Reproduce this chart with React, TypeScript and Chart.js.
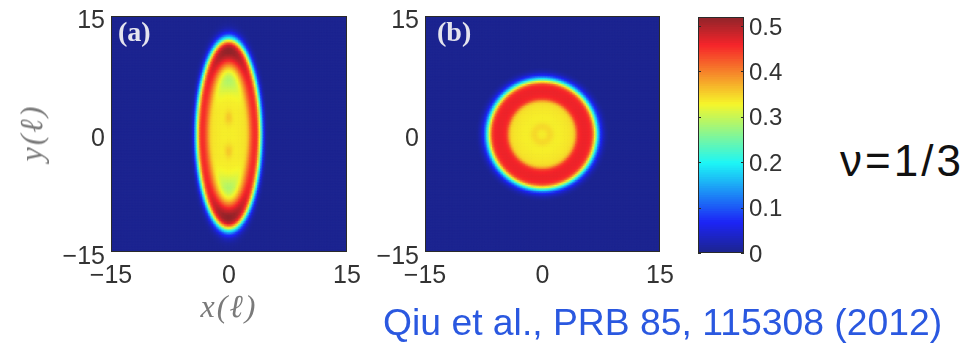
import React, { useEffect, useRef } from "react";
import { Chart, registerables } from "chart.js";

Chart.register(...registerables);

// ---------- data ----------
const AXIS_TICKS = [-15, 0, 15];
const AXIS_MIN = -15;
const AXIS_MAX = 15;
const COLORBAR_TICKS = [0, 0.1, 0.2, 0.3, 0.4, 0.5];
const COLOR_MIN = 0;
const COLOR_MAX = 0.52;

// Panel (a): elliptical droplet. Density read along the major (y) and minor (x)
// axes, sampled against normalised elliptical radius rho (step 0.04).
const A_SEMI_X = 4.2;
const A_SEMI_Y = 12.3;
const A_RHO_STEP = 0.04;
const A_MAJOR_PROFILE = [
  0.330, 0.332, 0.335, 0.343, 0.354, 0.352, 0.340, 0.333, 0.330, 0.328,
  0.322, 0.312, 0.300, 0.288, 0.284, 0.293, 0.315, 0.350, 0.400, 0.450,
  0.490, 0.515, 0.515, 0.480, 0.360, 0.190, 0.080, 0.028, 0.008, 0.002,
  0.000,
];
const A_MINOR_PROFILE = [
  0.330, 0.330, 0.330, 0.330, 0.330, 0.331, 0.331, 0.332, 0.332, 0.333,
  0.334, 0.335, 0.337, 0.342, 0.352, 0.372, 0.396, 0.418, 0.436, 0.447,
  0.450, 0.442, 0.412, 0.350, 0.270, 0.180, 0.100, 0.045, 0.015, 0.004,
  0.000,
];

// Panel (b): circular droplet, radial density (radius step 0.25 ℓ)
const B_R_STEP = 0.25;
const B_RADIAL_PROFILE = [
  0.330, 0.331, 0.335, 0.341, 0.343, 0.340, 0.334, 0.331, 0.330, 0.330,
  0.331, 0.332, 0.333, 0.334, 0.336, 0.339, 0.347, 0.380, 0.432, 0.452,
  0.457, 0.460, 0.460, 0.459, 0.455, 0.445, 0.400, 0.315, 0.215, 0.130,
  0.070, 0.035, 0.015, 0.005, 0.000,
];

const GRID_STEP = 0.2;
const COLORBAR_BINS = 104;

// ---------- helpers ----------
const clamp = (v: number, a: number, b: number) => Math.max(a, Math.min(b, v));

function lookup(profile: number[], step: number, pos: number) {
  const f = pos / step;
  const i = Math.floor(f);
  if (i >= profile.length - 1) return profile[profile.length - 1];
  const fr = f - i;
  return profile[i] * (1 - fr) + profile[i + 1] * fr;
}

function jetColor(value: number) {
  const t = clamp((value - COLOR_MIN) / (COLOR_MAX - COLOR_MIN), 0, 1);
  const r = clamp(Math.min(4 * t - 1.5, -4 * t + 4.5), 0, 1);
  const g = clamp(Math.min(4 * t - 0.5, -4 * t + 3.5), 0, 1);
  const b = clamp(Math.min(4 * t + 0.5, -4 * t + 2.5), 0, 1);
  const wash = (c: number, base: number) => Math.round(base + c * (255 - base) * 0.96);
  return `rgb(${wash(r, 28)},${wash(g, 36)},${wash(b, 42)})`;
}

function densityA(x: number, y: number) {
  const u = x / A_SEMI_X;
  const v = y / A_SEMI_Y;
  const rho = Math.hypot(u, v);
  const c2 = rho > 0 ? (v * v) / (rho * rho) : 1;
  const w = c2 * c2;
  return (1 - w) * lookup(A_MINOR_PROFILE, A_RHO_STEP, rho) + w * lookup(A_MAJOR_PROFILE, A_RHO_STEP, rho);
}

function densityB(x: number, y: number) {
  return lookup(B_RADIAL_PROFILE, B_R_STEP, Math.hypot(x, y));
}

function buildCells(fn: (x: number, y: number) => number) {
  const pts: { x: number; y: number }[] = [];
  const colors: string[] = [];
  const n = Math.round((AXIS_MAX - AXIS_MIN) / GRID_STEP);
  for (let j = 0; j < n; j++) {
    const y = AXIS_MIN + (j + 0.5) * GRID_STEP;
    for (let i = 0; i < n; i++) {
      const x = AXIS_MIN + (i + 0.5) * GRID_STEP;
      pts.push({ x, y });
      colors.push(jetColor(fn(x, y)));
    }
  }
  return { pts, colors };
}

const TICK_FONT = { family: "'Liberation Sans', Arial, Helvetica, sans-serif", size: 25 };
const TICK_COLOR = "#333333";
const fmtAxis = (v: number) => (v < 0 ? "\u2212" + Math.abs(v) : String(v));

const boxPlugin = {
  id: "box",
  afterDatasetsDraw(chart: any) {
    const a = chart.chartArea;
    const ctx = chart.ctx;
    ctx.save();
    ctx.strokeStyle = "#2a2a2a";
    ctx.lineWidth = 1;
    ctx.strokeRect(Math.round(a.left) + 0.5, Math.round(a.top) + 0.5, Math.round(a.right - a.left) - 1, Math.round(a.bottom - a.top) - 1);
    ctx.restore();
  },
};

// fill the plot area with the zero-density colour so cell seams never show white
const floorPlugin = {
  id: "floor",
  beforeDatasetsDraw(chart: any) {
    const a = chart.chartArea;
    const ctx = chart.ctx;
    ctx.save();
    ctx.fillStyle = jetColor(COLOR_MIN);
    ctx.fillRect(a.left, a.top, a.right - a.left, a.bottom - a.top);
    ctx.restore();
  },
};

function makePanel(canvas: HTMLCanvasElement, fn: (x: number, y: number) => number, yAxisWidth: number, padRight: number) {
  const { pts, colors } = buildCells(fn);
  const cellRadius = (chart: any) => {
    const s = chart.scales.x;
    const side = Math.abs(s.getPixelForValue(GRID_STEP) - s.getPixelForValue(0));
    return (side * 1.45) / Math.SQRT2;
  };
  return new Chart(canvas, {
    type: "scatter",
    data: {
      datasets: [
        {
          data: pts,
          pointStyle: "rect",
          pointBackgroundColor: colors,
          pointBorderWidth: 0,
          pointRadius: (c: any) => cellRadius(c.chart),
          pointHoverRadius: (c: any) => cellRadius(c.chart),
        } as any,
      ],
    },
    options: {
      animation: false,
      responsive: false,
      events: [],
      parsing: false,
      layout: { padding: { left: 0, top: 36, right: padRight, bottom: 0 } },
      plugins: { legend: { display: false }, tooltip: { enabled: false } },
      scales: {
        x: {
          type: "linear",
          min: AXIS_MIN,
          max: AXIS_MAX,
          afterBuildTicks: (s: any) => {
            s.ticks = AXIS_TICKS.map((value) => ({ value }));
          },
          afterFit: (s: any) => {
            s.height = 58;
          },
          grid: { display: false, drawTicks: false },
          border: { display: false },
          ticks: { font: TICK_FONT, color: TICK_COLOR, padding: 9, maxRotation: 0, autoSkip: false, callback: (v: any) => fmtAxis(Number(v)) },
        },
        y: {
          type: "linear",
          min: AXIS_MIN,
          max: AXIS_MAX,
          afterBuildTicks: (s: any) => {
            s.ticks = AXIS_TICKS.map((value) => ({ value }));
          },
          afterFit: (s: any) => {
            s.width = yAxisWidth;
          },
          grid: { display: false, drawTicks: false },
          border: { display: false },
          ticks: { font: TICK_FONT, color: TICK_COLOR, padding: 6, labelOffset: 5, autoSkip: false, callback: (v: any) => fmtAxis(Number(v)) },
        },
      },
    } as any,
    plugins: [floorPlugin, boxPlugin],
  });
}

function makeColorbar(canvas: HTMLCanvasElement) {
  const datasets = Array.from({ length: COLORBAR_BINS }, (_, i) => {
    const lo = COLOR_MIN + (i * (COLOR_MAX - COLOR_MIN)) / COLORBAR_BINS;
    const hi = COLOR_MIN + ((i + 1) * (COLOR_MAX - COLOR_MIN)) / COLORBAR_BINS;
    return {
      data: [[lo, Math.min(hi + 0.002, COLOR_MAX)]],
      backgroundColor: jetColor((lo + hi) / 2),
      borderWidth: 0,
      grouped: false,
      barPercentage: 1,
      categoryPercentage: 1,
    };
  });
  const tickPlugin = {
    id: "cbticks",
    afterDatasetsDraw(chart: any) {
      const a = chart.chartArea;
      const ys = chart.scales.y;
      const ctx = chart.ctx;
      ctx.save();
      ctx.strokeStyle = "#2a2a2a";
      ctx.lineWidth = 1;
      COLORBAR_TICKS.forEach((v) => {
        const py = Math.round(ys.getPixelForValue(v)) + 0.5;
        ctx.beginPath();
        ctx.moveTo(a.left, py);
        ctx.lineTo(a.left + 3, py);
        ctx.moveTo(a.right - 3, py);
        ctx.lineTo(a.right, py);
        ctx.stroke();
      });
      ctx.restore();
    },
  };
  return new Chart(canvas, {
    type: "bar",
    data: { labels: ["colorbar"], datasets: datasets as any },
    options: {
      animation: false,
      responsive: false,
      events: [],
      layout: { padding: { left: 18, top: 37, right: 0, bottom: 57 } },
      plugins: { legend: { display: false }, tooltip: { enabled: false } },
      scales: {
        x: { display: false },
        y: {
          position: "right",
          min: COLOR_MIN,
          max: COLOR_MAX,
          afterBuildTicks: (s: any) => {
            s.ticks = COLORBAR_TICKS.map((value) => ({ value }));
          },
          afterFit: (s: any) => {
            s.width = 56;
          },
          grid: { display: false, drawTicks: false },
          border: { display: false },
          ticks: {
            font: { family: "'Liberation Sans', Arial, Helvetica, sans-serif", size: 24 },
            color: TICK_COLOR,
            padding: 5,
            labelOffset: 2,
            autoSkip: false,
            callback: (v: any) => (Number(v) === 0 ? "0" : Number(v).toFixed(1)),
          },
        },
      },
    } as any,
    plugins: [boxPlugin, tickPlugin],
  });
}

// ---------- component ----------
const serif = "'Liberation Serif', 'Times New Roman', serif";
const sans = "'Liberation Sans', Arial, Helvetica, sans-serif";

export default function App() {
  const aRef = useRef<HTMLCanvasElement>(null);
  const bRef = useRef<HTMLCanvasElement>(null);
  const cRef = useRef<HTMLCanvasElement>(null);

  useEffect(() => {
    const charts = [
      makePanel(aRef.current!, densityA, 111, 33),
      makePanel(bRef.current!, densityB, 65, 30),
      makeColorbar(cRef.current!),
    ];
    return () => charts.forEach((c) => c.destroy());
  }, []);

  const abs = (left: number, top: number, w: number, h: number): React.CSSProperties => ({
    position: "absolute",
    left,
    top,
    width: w,
    height: h,
  });

  return (
    <div
      style={{
        position: "fixed",
        left: 0,
        top: 0,
        width: 971,
        height: 355,
        background: "#ffffff",
        overflow: "hidden",
      }}
    >
      <canvas ref={aRef} width={380} height={330} style={abs(0, -20, 380, 330)} />
      <canvas ref={bRef} width={330} height={330} style={abs(360, -20, 330, 330)} />
      <canvas ref={cRef} width={120} height={330} style={abs(680, -20, 120, 330)} />

      <div style={{ position: "absolute", left: 118, top: 18, font: `bold 28px ${serif}`, lineHeight: 1, color: "#e4e4ee", whiteSpace: "nowrap" }}>(a)</div>
      <div style={{ position: "absolute", left: 437, top: 18, font: `bold 28px ${serif}`, lineHeight: 1, color: "#e4e4ee", whiteSpace: "nowrap" }}>(b)</div>

      <div
        style={{
          position: "absolute",
          left: 229,
          top: 306,
          transform: "translate(-50%, -50%)",
          font: `italic 32px ${serif}`,
          lineHeight: 1,
          letterSpacing: 2,
          color: "#7a7a7a",
          whiteSpace: "nowrap",
        }}
      >
        x(ℓ)
      </div>
      <div
        style={{
          position: "absolute",
          left: 31,
          top: 133,
          transform: "translate(-50%, -50%) rotate(-90deg)",
          font: `italic 32px ${serif}`,
          lineHeight: 1,
          letterSpacing: 2,
          color: "#7a7a7a",
          whiteSpace: "nowrap",
        }}
      >
        y(ℓ)
      </div>

      <div style={{ position: "absolute", left: 840, top: 139, font: `44px ${sans}`, lineHeight: 1, color: "#111111", whiteSpace: "nowrap", letterSpacing: 3 }}>
        ν=1/3
      </div>
      <div style={{ position: "absolute", left: 383, top: 304, font: `37.3px ${sans}`, lineHeight: 1, color: "#2a58e0", whiteSpace: "nowrap" }}>
        Qiu et al., PRB 85, 115308 (2012)
      </div>
    </div>
  );
}
